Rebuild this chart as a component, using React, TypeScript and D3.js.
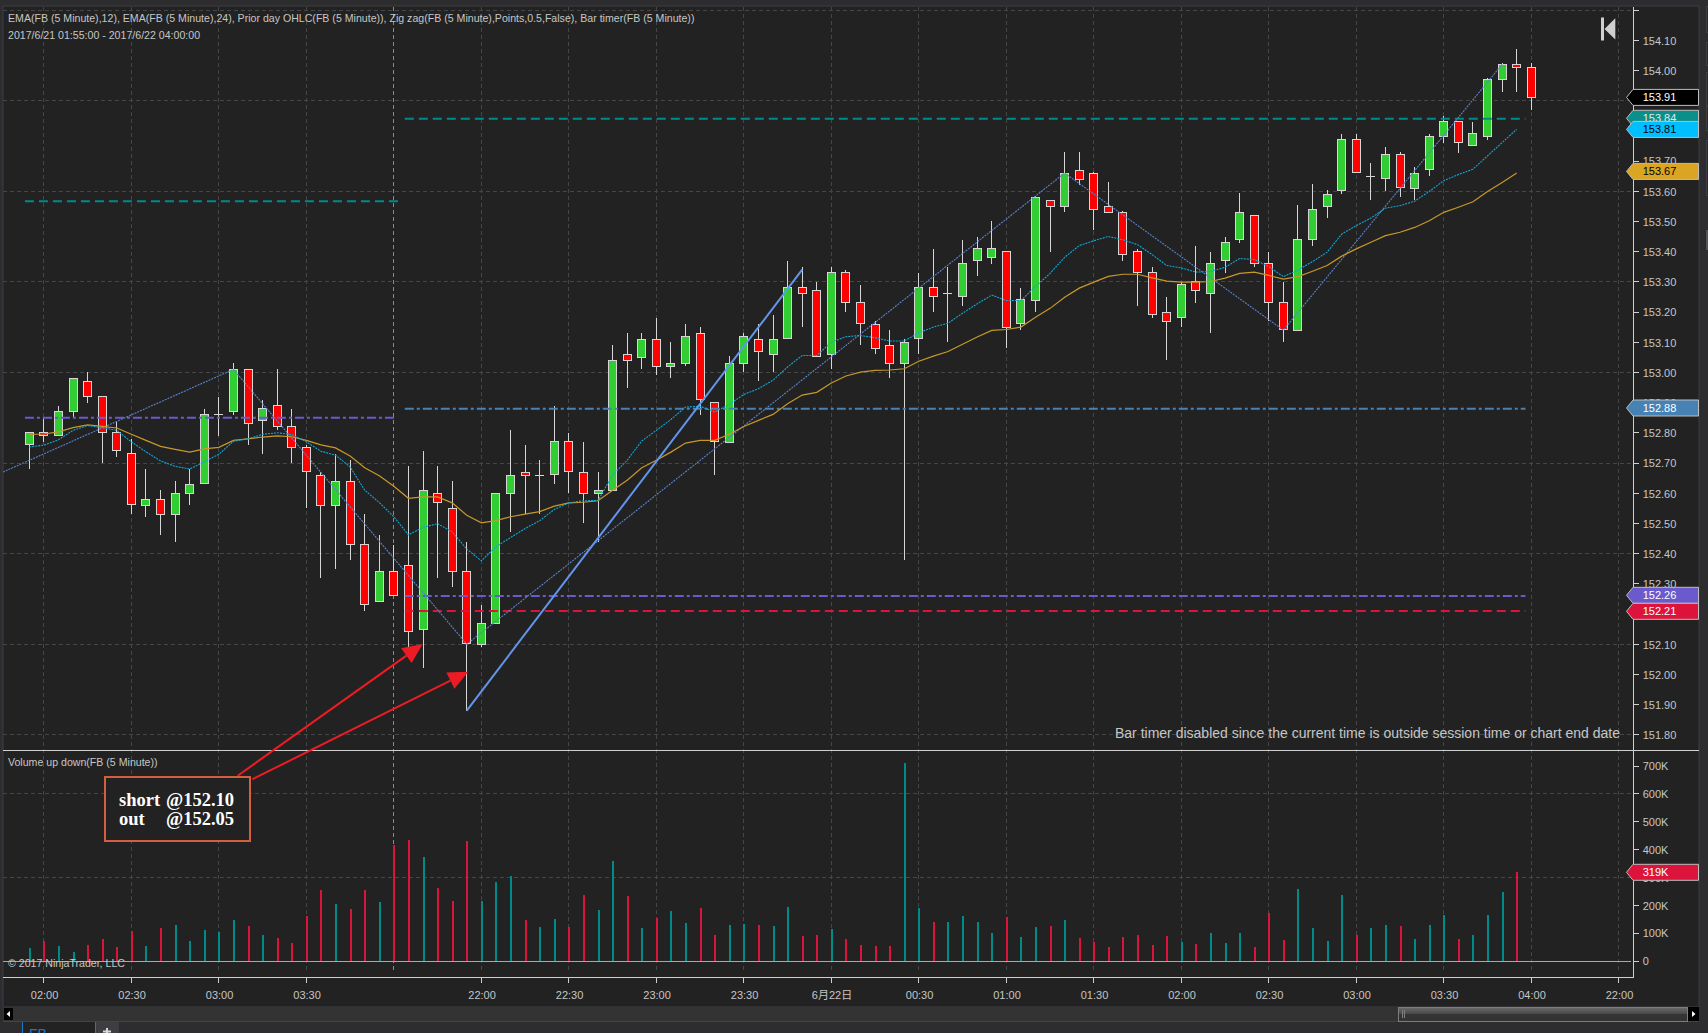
import React from 'react';
import * as d3 from 'd3';

const opens = [152.76,152.80,152.79,152.87,152.97,152.92,152.80,152.73,152.56,152.58,152.53,152.60,152.63,152.86,152.87,153.01,152.84,152.89,152.82,152.75,152.66,152.56,152.64,152.43,152.24,152.34,152.36,152.15,152.60,152.55,152.34,152.10,152.17,152.60,152.67,152.66,152.66,152.77,152.67,152.60,152.61,153.06,153.05,153.11,153.02,153.03,153.13,152.90,152.77,153.03,153.11,153.06,153.11,153.28,153.27,153.06,153.33,153.23,153.16,153.09,153.03,153.11,153.28,153.26,153.25,153.37,153.38,153.40,153.16,153.24,153.57,153.55,153.67,153.66,153.55,153.53,153.40,153.33,153.20,153.18,153.30,153.26,153.37,153.44,153.52,153.36,153.23,153.14,153.44,153.55,153.60,153.77,153.65,153.64,153.72,153.61,153.67,153.78,153.83,153.75,153.78,153.97,154.02,154.01];
const highs = [152.80,152.85,152.89,152.98,153.00,152.92,152.84,152.78,152.68,152.61,152.64,152.68,152.88,152.92,153.03,153.01,152.91,153.01,152.88,152.76,152.67,152.73,152.71,152.53,152.46,152.43,152.69,152.74,152.69,152.64,152.44,152.23,152.60,152.81,152.76,152.71,152.89,152.80,152.77,152.67,153.09,153.13,153.13,153.18,153.10,153.16,153.15,152.90,153.055,153.13,153.16,153.19,153.37,153.35,153.30,153.35,153.34,153.29,153.17,153.14,153.11,153.33,153.41,153.35,153.44,153.45,153.50,153.40,153.28,153.585,153.57,153.73,153.73,153.665,153.63,153.535,153.41,153.35,153.25,153.30,153.42,153.40,153.45,153.595,153.52,153.40,153.30,153.555,153.625,153.605,153.79,153.79,153.695,153.745,153.73,153.68,153.79,153.85,153.83,153.83,153.975,154.025,154.07,154.025];
const lows = [152.68,152.77,152.79,152.85,152.90,152.70,152.72,152.53,152.52,152.46,152.44,152.56,152.63,152.79,152.86,152.76,152.73,152.81,152.70,152.55,152.32,152.35,152.38,152.21,152.24,152.26,152.08,152.02,152.32,152.29,151.88,152.09,152.17,152.47,152.53,152.53,152.63,152.60,152.50,152.44,152.61,152.95,153.01,152.99,152.98,153.02,152.86,152.66,152.77,153.00,152.97,153.00,153.11,153.15,153.05,153.01,153.20,153.09,153.06,152.98,152.38,153.06,153.20,153.10,153.22,153.32,153.36,153.08,153.14,153.20,153.40,153.53,153.62,153.47,153.53,153.37,153.22,153.18,153.04,153.15,153.23,153.13,153.33,153.43,153.35,153.17,153.10,153.14,153.42,153.51,153.59,153.66,153.57,153.60,153.58,153.57,153.65,153.76,153.725,153.75,153.77,153.93,153.93,153.87];
const closes = [152.80,152.79,152.87,152.98,152.92,152.80,152.74,152.56,152.58,152.53,152.60,152.63,152.86,152.86,153.01,152.83,152.88,152.82,152.75,152.67,152.56,152.64,152.43,152.23,152.34,152.26,152.14,152.61,152.57,152.34,152.10,152.17,152.60,152.66,152.66,152.66,152.77,152.67,152.60,152.61,153.04,153.04,153.11,153.02,153.03,153.12,152.91,152.77,153.03,153.12,153.07,153.11,153.28,153.26,153.05,153.33,153.23,153.16,153.08,153.03,153.10,153.28,153.25,153.26,153.36,153.41,153.41,153.15,153.24,153.58,153.55,153.66,153.64,153.54,153.53,153.39,153.33,153.19,153.17,153.29,153.27,153.36,153.43,153.53,153.36,153.23,153.14,153.44,153.54,153.59,153.77,153.66,153.65,153.72,153.61,153.66,153.78,153.83,153.76,153.79,153.97,154.02,154.01,153.91];
const volumesK = [47,73,55,33,59,80,51,109,55,119,130,73,112,105,148,127,94,84,66,162,256,205,188,256,213,417,435,374,263,216,431,216,284,306,148,123,152,123,238,184,360,234,119,155,180,137,191,94,130,134,130,127,195,91,94,116,80,59,55,55,711,191,141,141,162,141,102,159,87,123,127,148,84,69,51,87,94,59,91,69,62,102,66,102,51,173,76,259,119,73,238,94,119,130,127,80,130,166,80,94,166,248,319];
const ema12 = [152.753,152.759,152.777,152.808,152.824,152.817,152.808,152.77,152.737,152.707,152.689,152.68,152.704,152.729,152.772,152.78,152.795,152.80,152.794,152.77,152.739,152.726,152.687,152.61,152.569,152.522,152.462,152.487,152.499,152.472,152.415,152.376,152.423,152.453,152.483,152.509,152.546,152.568,152.575,152.576,152.66,152.709,152.773,152.808,152.844,152.885,152.888,152.869,152.894,152.927,152.946,152.974,153.018,153.056,153.056,153.10,153.118,153.122,153.115,153.104,153.104,153.131,153.15,153.163,153.196,153.227,153.256,153.238,153.238,153.284,153.328,153.381,153.42,153.436,153.45,153.439,153.423,153.39,153.354,153.346,153.332,153.334,153.348,153.377,153.374,153.35,153.317,153.339,153.367,153.398,153.458,153.486,153.511,153.544,153.552,153.567,153.599,153.635,153.655,153.673,153.717,153.761,153.805];
const ema24 = [152.795,152.796,152.803,152.817,152.826,152.821,152.816,152.795,152.775,152.755,152.745,152.736,152.747,152.752,152.775,152.78,152.786,152.79,152.787,152.775,152.76,152.75,152.723,152.684,152.658,152.623,152.583,152.588,152.588,152.568,152.527,152.502,152.509,152.522,152.531,152.539,152.557,152.568,152.57,152.575,152.61,152.643,152.684,152.709,152.736,152.766,152.775,152.775,152.795,152.821,152.841,152.861,152.896,152.925,152.934,152.965,152.988,153.001,153.007,153.008,153.012,153.037,153.054,153.069,153.093,153.117,153.139,153.142,153.15,153.183,153.212,153.249,153.279,153.299,153.318,153.325,153.325,153.313,153.302,153.299,153.299,153.301,153.312,153.328,153.332,153.321,153.309,153.317,153.335,153.354,153.385,153.409,153.431,153.453,153.464,153.48,153.502,153.53,153.547,153.565,153.599,153.629,153.66];
const zigzagBars = [-1.8,14,30,71,86,101];
const zigzagPrices = [152.67,153.01,152.10,153.66,153.14,154.02];
const handLineBars = [30,53];
const handLinePrices = [151.88,153.34];
const xTickBars = [1,7,13,19,31,37,43,49,55,61,67,73,79,85,91,97,103,109];
const xTickLabels = ['02:00','02:30','03:00','03:30','22:00','22:30','23:00','23:30','6月22日','00:30','01:00','01:30','02:00','02:30','03:00','03:30','04:00','22:00'];
const priceTicks = [154.2,154.1,154.0,153.9,153.8,153.7,153.6,153.5,153.4,153.3,153.2,153.1,153.0,152.9,152.8,152.7,152.6,152.5,152.4,152.3,152.2,152.1,152.0,151.9,151.8];
const priceGrid = [154.2,153.9,153.6,153.3,153.0,152.7,152.4,152.1,151.8];
const volumeTicks = [0,100,200,300,400,500,600,700];
const volumeGrid = [300,600];
const sessionBreakBar = 25;
const priorLines = [
  { price: 153.567, from: -0.3, to: 25.3, color: '#008B8B', dash: '9 5' },
  { price: 152.85, from: -0.3, to: 25.2, color: '#6A5ACD', dash: '9 3 3 3' },
  { price: 153.84, from: 25.75, to: 102.6, color: '#008B8B', dash: '9 5' },
  { price: 152.88, from: 25.75, to: 102.6, color: '#4682B4', dash: '9 3 3 3' },
  { price: 152.26, from: 25.75, to: 102.6, color: '#6A5ACD', dash: '9 3 3 3' },
  { price: 152.21, from: 25.75, to: 102.6, color: '#DC143C', dash: '9 5' },
];
const priceMarkers = [
  { value: 153.91, cy: 97.4, fill: '#000000', text: '#ffffff' },
  { value: 153.84, cy: 118.3, fill: '#0A8F8A', text: '#e8e8e8' },
  { value: 153.81, cy: 129.4, fill: '#00BFFF', text: '#000000' },
  { value: 153.67, cy: 171.4, fill: '#DAA520', text: '#000000' },
  { value: 152.88, cy: 408, fill: '#4682B4', text: '#ffffff' },
  { value: 152.26, cy: 595.3, fill: '#6A5ACD', text: '#ffffff' },
  { value: 152.21, cy: 611.3, fill: '#DC143C', text: '#ffffff' },
];

const font = '"Liberation Sans", Arial, "Noto Sans CJK SC", sans-serif';
const gridColor = '#464646';
const axisColor = '#cfcfcf';
const textColor = '#c6c6c6';

const x = d3.scaleLinear().domain([0, 103]).range([29.3, 1531.3]);
const yP = d3.scaleLinear().domain([153, 154]).range([372.4, 70.4]);
const yV = d3.scaleLinear().domain([0, 100]).range([961.3, 933.4]);
const crisp = (v: number) => Math.floor(v) + 0.5;

const chartRight = 1633;

function Arrow({ x1, y1, x2, y2 }: { x1: number; y1: number; x2: number; y2: number }) {
  const a = Math.atan2(y2 - y1, x2 - x1);
  const len = 20;
  const half = 9;
  const bx = x2 - len * Math.cos(a);
  const by = y2 - len * Math.sin(a);
  const pts = [
    [x2, y2],
    [bx - half * Math.sin(a), by + half * Math.cos(a)],
    [bx + half * Math.sin(a), by - half * Math.cos(a)],
  ];
  return (
    <g>
      <line x1={x1} y1={y1} x2={bx} y2={by} stroke="#ED1C24" strokeWidth={2} />
      <polygon points={pts.map((p) => p.join(',')).join(' ')} fill="#ED1C24" />
    </g>
  );
}

function Marker({ cy, fill, text, label }: { cy: number; fill: string; text: string; label: string }) {
  const l = 1633;
  const r = 1698.5;
  const h = 8;
  return (
    <g>
      <path
        d={`M${l - 6.5},${cy} L${l},${cy - h} L${r},${cy - h} L${r},${cy + h} L${l},${cy + h} Z`}
        fill={fill}
        stroke="#bdbdbd"
        strokeWidth={1}
      />
      <text x={1642.7} y={cy + 4} fontSize={11} fill={text} fontFamily={font}>{label}</text>
    </g>
  );
}

export default function App() {
  const ema12Line = d3.line<number>().x((_, i) => x(i)).y((d) => yP(d));
  const ema24Line = d3.line<number>().x((_, i) => x(i)).y((d) => yP(d));
  const zigLine = d3.line<number>().x((_, i) => x(zigzagBars[i])).y((d) => yP(d));
  const handLine = d3.line<number>().x((_, i) => x(handLineBars[i])).y((d) => yP(d));

  return (
    <svg
      width={1708}
      height={1033}
      viewBox="0 0 1708 1033"
      style={{ position: 'absolute', left: 0, top: 0, display: 'block' }}
    >
      <defs>
        <clipPath id="priceClip"><rect x={3} y={6} width={1630} height={744} /></clipPath>
        <linearGradient id="thumb" x1="0" y1="0" x2="0" y2="1">
          <stop offset="0" stopColor="#6a6a6a" />
          <stop offset="0.45" stopColor="#4a4a4a" />
          <stop offset="0.5" stopColor="#353535" />
          <stop offset="1" stopColor="#333333" />
        </linearGradient>
      </defs>
      <rect x={0} y={0} width={1708} height={1033} fill="#2D2D30" />
      <rect x={3} y={6} width={1696} height={1001} fill="#222222" stroke="#3E3E42" strokeWidth={1} />

      {/* grid */}
      <g stroke={gridColor} strokeWidth={1} strokeDasharray="4 3" shapeRendering="crispEdges">
        {priceGrid.map((p) => (
          <line key={p} x1={3} x2={chartRight} y1={crisp(yP(p))} y2={crisp(yP(p))} />
        ))}
        {volumeGrid.map((v) => (
          <line key={v} x1={3} x2={chartRight} y1={crisp(yV(v))} y2={crisp(yV(v))} />
        ))}
        {xTickBars.map((b) => (
          <line key={b} x1={crisp(x(b))} x2={crisp(x(b))} y1={7} y2={973} />
        ))}
      </g>
      <line x1={crisp(x(sessionBreakBar))} x2={crisp(x(sessionBreakBar))} y1={7} y2={973} stroke="#8a8a8a" strokeDasharray="4 3" shapeRendering="crispEdges" />

      {/* candles */}
      <g clipPath="url(#priceClip)" shapeRendering="crispEdges">
        {opens.map((o, i) => {
          const c = closes[i];
          const cx = crisp(x(i));
          const top = yP(Math.max(o, c));
          const bot = yP(Math.min(o, c));
          const up = c >= o;
          return (
            <g key={i}>
              <line x1={cx} x2={cx} y1={yP(highs[i])} y2={yP(lows[i])} stroke="#d6d6d6" strokeWidth={1} />
              {o === c ? (
                <line x1={cx - 4.5} x2={cx + 4.5} y1={crisp(top)} y2={crisp(top)} stroke="#d6d6d6" strokeWidth={1} />
              ) : (
                <rect
                  x={cx - 4}
                  y={crisp(top)}
                  width={8}
                  height={Math.max(2, Math.round(bot - top))}
                  fill={up ? '#32CD32' : '#FF0000'}
                  stroke="#d6d6d6"
                  strokeWidth={1}
                />
              )}
            </g>
          );
        })}
      </g>

      {/* indicators */}
      <g clipPath="url(#priceClip)" fill="none">
        {priorLines.map((l, i) => (
          <line
            key={i}
            x1={x(l.from)}
            x2={x(l.to)}
            y1={yP(l.price)}
            y2={yP(l.price)}
            stroke={l.color}
            strokeWidth={2}
            strokeDasharray={l.dash}
          />
        ))}
        <path d={zigLine(zigzagPrices) || ''} stroke="#5B82CC" strokeWidth={1.1} strokeDasharray="2 1" />
        <path d={ema24Line(ema24) || ''} stroke="#C7982A" strokeWidth={1.2} />
        <path d={ema12Line(ema12) || ''} stroke="#10A8D8" strokeWidth={1.1} strokeDasharray="2 1" />
        <path d={handLine(handLinePrices) || ''} stroke="#6495ED" strokeWidth={2} />
      </g>

      {/* volume */}
      <line x1={3} x2={1631} y1={crisp(yV(0))} y2={crisp(yV(0))} stroke="#a8a8a8" shapeRendering="crispEdges" />
      <g shapeRendering="crispEdges">
        {volumesK.map((v, i) => (
          <rect
            key={i}
            x={Math.floor(x(i))}
            y={yV(v)}
            width={2}
            height={yV(0) - yV(v)}
            fill={closes[i] >= opens[i] ? '#008B8B' : '#DC143C'}
          />
        ))}
      </g>

      {/* frame lines */}
      <g stroke={axisColor} shapeRendering="crispEdges">
        <line x1={3} x2={1699} y1={750.5} y2={750.5} />
        <line x1={3} x2={1633.5} y1={977.5} y2={977.5} />
        <line x1={1633.5} x2={1633.5} y1={7} y2={977.5} />
        {xTickBars.map((b) => (
          <line key={b} x1={crisp(x(b))} x2={crisp(x(b))} y1={978} y2={983} />
        ))}
        {priceTicks.map((p) => (
          <line key={p} x1={1633} x2={1639} y1={crisp(yP(p))} y2={crisp(yP(p))} />
        ))}
        {volumeTicks.map((v) => (
          <line key={v} x1={1633} x2={1639} y1={crisp(yV(v))} y2={crisp(yV(v))} />
        ))}
      </g>

      {/* axis labels */}
      <g fontFamily={font} fontSize={11} fill={textColor}>
        {priceTicks.slice(1).map((p) => (
          <text key={p} x={1642.7} y={yP(p) + 4.3}>{d3.format('.2f')(p)}</text>
        ))}
        {volumeTicks.map((v) => (
          <text key={v} x={1642.7} y={yV(v) + 4}>{v === 0 ? '0' : `${v}K`}</text>
        ))}
        {xTickBars.map((b, i) => (
          <text key={b} x={x(b) + 0.7} y={xTickLabels[i].length > 5 ? 1000 : 999} textAnchor="middle">{xTickLabels[i]}</text>
        ))}
      </g>

      {/* header text */}
      <g fontFamily={font} fontSize={10.6} fill={textColor}>
        <text x={8} y={21.5}>EMA(FB (5 Minute),12), EMA(FB (5 Minute),24), Prior day OHLC(FB (5 Minute)), Zig zag(FB (5 Minute),Points,0.5,False), Bar timer(FB (5 Minute))</text>
        <text x={8} y={38.5}>2017/6/21 01:55:00 - 2017/6/22 04:00:00</text>
        <text x={8} y={766}>Volume up down(FB (5 Minute))</text>
        <text x={8} y={967}>© 2017 NinjaTrader, LLC</text>
      </g>
      <text x={1115} y={737.5} fontFamily={font} fontSize={14} fill={textColor}>Bar timer disabled since the current time is outside session time or chart end date</text>

      {/* rewind icon */}
      <rect x={1601} y={17.5} width={3} height={23} fill="#d0d0d0" />
      <polygon points="1604.5,29 1615.3,18.3 1615.3,39.5" fill="#d0d0d0" />

      {/* markers */}
      {priceMarkers.map((m) => (
        <Marker key={m.value} cy={m.cy} fill={m.fill} text={m.text} label={d3.format('.2f')(m.value)} />
      ))}
      <Marker cy={872.3} fill="#DC143C" text="#ffffff" label="319K" />

      {/* annotation */}
      <Arrow x1={237.7} y1={775.7} x2={422.7} y2={644} />
      <Arrow x1={252.3} y1={779.3} x2={468.3} y2={671.7} />
      <rect x={105} y={777} width={145} height={64} fill="#222222" stroke="#D2603F" strokeWidth={2} />
      <g fontFamily='"Liberation Serif", "DejaVu Serif", serif' fontWeight={700} fontSize={18.5} fill="#ffffff">
        <text x={119} y={806}>short</text>
        <text x={166} y={806}>@152.10</text>
        <text x={119} y={825}>out</text>
        <text x={166} y={825}>@152.05</text>
      </g>

      {/* scroll bar and tabs */}
      <rect x={3} y={1007} width={1696} height={14.5} fill="#333333" />
      <line x1={3} x2={1699} y1={1021.5} y2={1021.5} stroke="#444444" />
      <rect x={1398.5} y={1007.5} width={289} height={14} fill="url(#thumb)" stroke="#7d7d7d" />
      <line x1={1402.5} x2={1402.5} y1={1010} y2={1018} stroke="#808080" />
      <line x1={1404.5} x2={1404.5} y1={1010} y2={1018} stroke="#808080" />
      <rect x={4} y={1008} width={9} height={12} fill="#000000" />
      <polygon points="6.5,1014 10,1011 10,1017" fill="#ffffff" />
      <rect x={1688} y={1007} width={11} height={14} fill="#000000" />
      <polygon points="1695.5,1014 1692,1011 1692,1017" fill="#ffffff" />
      <rect x={22} y={1022} width={73} height={11} fill="#222222" />
      <line x1={22.5} x2={22.5} y1={1022} y2={1033} stroke="#1B7AC7" />
      <line x1={95.5} x2={95.5} y1={1022} y2={1033} stroke="#1B7AC7" />
      <text x={29} y={1039} fontFamily={font} fontSize={14} fill="#1B7AC7">FB</text>
      <rect x={96} y={1022} width={23} height={11} fill="#3E3E42" />
      <path d="M107,1028 V1033 M103,1031.5 H111" stroke="#d8d8d8" strokeWidth={2} />

      {/* side panel edges */}
      <g fill="#2D2D30" stroke="#3E3E42">
        <rect x={1706.5} y={6.5} width={4} height={26} />
        <rect x={1706.5} y={42.5} width={4} height={23} />
        <rect x={1706.5} y={72.5} width={4} height={33} />
        <rect x={1706.5} y={106.5} width={4} height={24} />
        <rect x={1706.5} y={140.5} width={4} height={55} />
      </g>
      <rect x={1706} y={230} width={2} height={20} fill="#555555" />
    </svg>
  );
}
